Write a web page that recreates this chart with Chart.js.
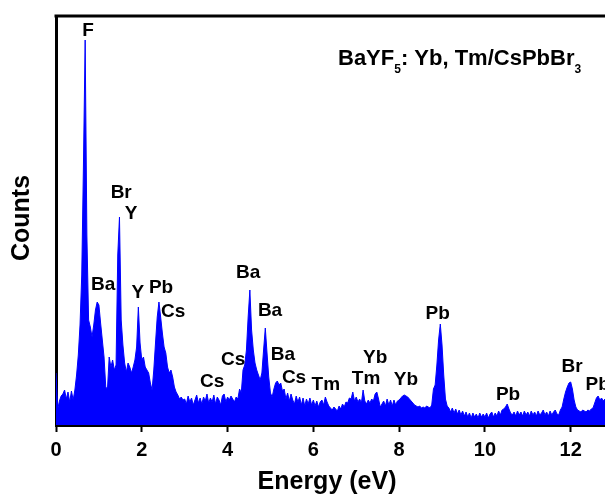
<!DOCTYPE html>
<html>
<head>
<meta charset="utf-8">
<script src="https://cdn.jsdelivr.net/npm/chart.js@4/dist/chart.umd.min.js"></script>
<style>
  html, body { margin: 0; padding: 0; background: #ffffff; }
  canvas { display: block; }
</style>
</head>
<body>
<canvas id="eds" width="605" height="497"></canvas>
<script>
// EDS spectrum of BaYF5: Yb, Tm/CsPbBr3, one value per 0.04 eV channel (0 – 12.8 eV)
const channelWidth = 0.04;
const counts = [
  52, 16, 24, 29, 31, 35, 26, 33, 23, 34, 25, 35, 50, 70, 100, 150, 260, 385, 190, 105, 98, 88, 100, 115, 123,
  120, 102, 85, 68, 38, 36, 68, 58, 65, 55, 60, 170, 208, 105, 80, 62, 53, 62, 58, 52, 58, 65, 78, 118, 82,
  65, 68, 58, 55, 52, 42, 35, 55, 82, 108, 123, 108, 92, 78, 72, 58, 52, 55, 48, 38, 33, 30, 26, 28, 25,
  26, 21, 29, 23, 27, 20, 25, 30, 22, 27, 21, 28, 24, 31, 22, 27, 23, 30, 21, 28, 25, 20, 29, 31, 23,
  28, 25, 29, 26, 23, 28, 26, 36, 32, 55, 60, 75, 108, 135, 95, 75, 62, 55, 50, 45, 52, 75, 97, 72, 48,
  32, 28, 36, 42, 44, 40, 42, 34, 36, 26, 32, 24, 31, 25, 21, 29, 23, 28, 20, 27, 19, 26, 21, 27, 20,
  25, 19, 24, 18, 23, 25, 20, 28, 23, 19, 17, 15, 18, 16, 14, 19, 16, 21, 18, 23, 22, 27, 26, 33, 24,
  28, 23, 26, 22, 35, 24, 21, 25, 22, 26, 24, 31, 33, 26, 18, 21, 24, 19, 26, 20, 25, 19, 25, 20, 24,
  25, 27, 29, 30, 29, 28, 26, 24, 22, 20, 19, 18, 19, 17, 18, 17, 19, 18, 17, 20, 36, 40, 60, 85, 101,
  80, 50, 26, 19, 17, 13, 17, 12, 16, 11, 15, 10, 14, 9, 13, 8, 12, 7, 12, 8, 11, 7, 12, 8, 11,
  8, 12, 7, 11, 13, 8, 12, 9, 14, 10, 15, 16, 18, 21, 16, 12, 10, 13, 9, 14, 10, 13, 9, 14, 10,
  13, 9, 14, 10, 13, 9, 14, 10, 12, 15, 10, 13, 9, 14, 10, 13, 15, 11, 10, 15, 18, 26, 33, 38, 42,
  43, 36, 25, 18, 15, 14, 13, 15, 14, 13, 15, 14, 16, 17, 22, 27, 29, 25, 27, 24, 26
];
const energies = counts.map((_, i) => +(i * channelWidth).toFixed(2));

// element labels and where they sit (energy in eV, height in counts)
const peakNames = ['F', 'Br', 'Y', 'Ba', 'Y', 'Pb', 'Cs', 'Cs', 'Cs', 'Ba', 'Ba', 'Ba', 'Cs', 'Tm', 'Tm', 'Yb', 'Yb', 'Pb', 'Pb', 'Br', 'Pb'];
const peakLabelE = [0.75, 1.52, 1.75, 1.10, 1.91, 2.45, 2.73, 3.64, 4.13, 4.48, 4.99, 5.29, 5.55, 6.29, 7.23, 7.44, 8.16, 8.90, 10.54, 12.03, 12.63];
const peakLabelCounts = [394, 232, 211, 140, 132, 137, 113, 43, 65, 152, 114, 70, 47, 40, 46, 67, 45, 111, 30, 58, 40];

const xTicks = [0, 2, 4, 6, 8, 10, 12];
const energyRange = [0, 12.8];
const countRange = [0, 409];

const FONT = "'Liberation Sans', Arial, sans-serif";

const spectrum = energies.map((e, i) => ({ x: e, y: counts[i] }));

const decorations = {
  id: 'decorations',
  afterDraw(chart) {
    const { ctx, chartArea, scales } = chart;
    ctx.save();
    // top frame line
    ctx.strokeStyle = '#000';
    ctx.lineWidth = 3;
    ctx.beginPath();
    ctx.moveTo(chartArea.left - 1.5, chartArea.top);
    ctx.lineTo(chart.width, chartArea.top);
    ctx.stroke();

    // element labels
    ctx.fillStyle = '#000';
    ctx.font = 'bold 19px ' + FONT;
    ctx.textAlign = 'center';
    ctx.textBaseline = 'middle';
    peakNames.forEach((name, i) => {
      ctx.fillText(name, scales.x.getPixelForValue(peakLabelE[i]), scales.y.getPixelForValue(peakLabelCounts[i]));
    });

    // axis titles
    ctx.font = 'bold 25px ' + FONT;
    ctx.fillText('Energy (eV)', 327, 482);
    ctx.save();
    ctx.translate(22, 218);
    ctx.rotate(-Math.PI / 2);
    ctx.fillText('Counts', 0, 0);
    ctx.restore();

    // sample name with subscripts
    const parts = [
      { t: 'BaYF', sub: false },
      { t: '5', sub: true },
      { t: ': Yb, Tm/CsPbBr', sub: false },
      { t: '3', sub: true }
    ];
    let x = 338;
    const base = 65;
    ctx.textAlign = 'left';
    ctx.textBaseline = 'alphabetic';
    parts.forEach(p => {
      ctx.font = p.sub ? 'bold 12px ' + FONT : 'bold 22px ' + FONT;
      ctx.fillText(p.t, x, p.sub ? base + 8 : base);
      x += ctx.measureText(p.t).width;
    });
    ctx.restore();
  }
};

new Chart(document.getElementById('eds'), {
  type: 'line',
  data: {
    datasets: [{
      data: spectrum,
      borderColor: '#0000ff',
      backgroundColor: '#0000ff',
      borderWidth: 1,
      pointRadius: 0,
      tension: 0,
      fill: 'origin'
    }]
  },
  options: {
    responsive: false,
    animation: false,
    devicePixelRatio: 1,
    layout: { padding: { top: 16, right: 0, left: 0, bottom: 0 } },
    plugins: { legend: { display: false }, tooltip: { enabled: false } },
    scales: {
      x: {
        type: 'linear',
        min: energyRange[0],
        max: energyRange[1],
        z: 1,
        afterBuildTicks(scale) { scale.ticks = xTicks.map(v => ({ value: v })); },
        afterFit(scale) { scale.height = 72; },
        ticks: {
          color: '#000',
          padding: 6,
          maxRotation: 0,
          autoSkip: false,
          font: { family: FONT, size: 20, weight: 'bold' },
          callback: v => String(v)
        },
        grid: { display: true, drawOnChartArea: false, drawTicks: true, tickLength: 7, tickWidth: 2, tickColor: '#000' },
        border: { display: true, color: '#000', width: 3 }
      },
      y: {
        min: countRange[0],
        max: countRange[1],
        z: 1,
        afterFit(scale) { scale.width = 56; },
        ticks: { display: false },
        grid: { display: false },
        border: { display: true, color: '#000', width: 3 }
      }
    }
  },
  plugins: [decorations]
});
</script>
</body>
</html>
